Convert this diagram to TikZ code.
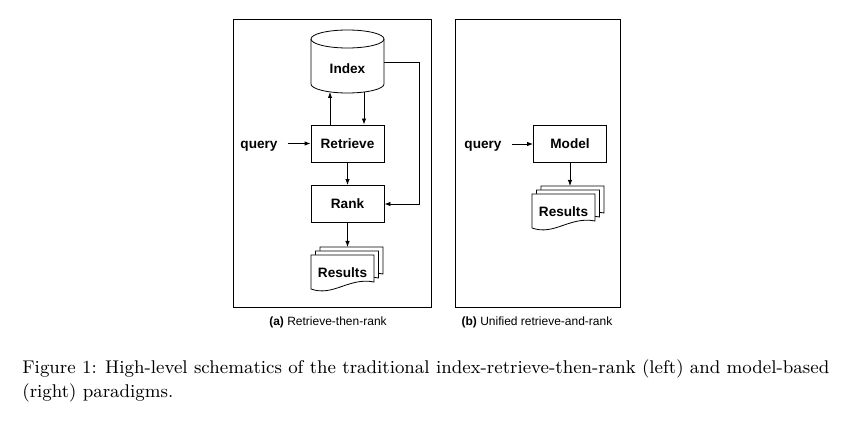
\documentclass[tikz,border=0pt]{standalone}
\usepackage{fontspec}
\newfontfamily\arialfont{Liberation Sans}
\usetikzlibrary{arrows.meta,positioning,calc}

\begin{document}
\begin{tikzpicture}[x=0.5pt,y=-0.5pt,
  font=\arialfont\bfseries\fontsize{6.8}{8}\selectfont,
  stage/.style={draw,minimum width=36.5pt,minimum height=18.5pt,inner sep=0pt},
  flow/.style={-{Latex[length=3pt,width=2.2pt]},line width=0.4pt},
  panel/.style={draw,line width=0.5pt},
  sub/.style={font=\arialfont\fontsize{6}{7}\selectfont},
  docs/.pic={
    \foreach \k in {2,1,0} {
      \draw[fill=white,line width=0.4pt,shift={(4.5*\k,-4*\k)}]
        (0,0) -- (63,0) -- (63,27) .. controls (38,22) and (22,42) .. (0,34) -- cycle;
    }
  }]
\useasboundingbox (0,0) rectangle (867,422);

% panels
\draw[panel] (233,20) rectangle (431,307);
\draw[panel] (455,20) rectangle (620,307);

% (a) retrieve then rank
\draw[line width=0.4pt,fill=white] (311,39) -- (311,84)
  arc[start angle=180,end angle=0,x radius=36.5,y radius=9] -- (384,39);
\draw[line width=0.4pt] (347.5,39) ellipse[x radius=36.5,y radius=9];
\node (index) at (347.5,69) {Index};
\coordinate (idxl) at (330,92);
\coordinate (idxr) at (364,92);
\coordinate (idxe) at (384,62);

\node[stage] (retrieve) at (347.5,143.5) {Retrieve};
\node[stage] (rank) at (347.5,204) {Rank};
\node (querya) at (259,146.5) {query};

\pic at (311,255) {docs};
\node (resultsa) at (342.5,273) {Results};
\coordinate (resatop) at (347.5,247);

\draw[flow] (querya.east |- retrieve) ++(3,0) -- (retrieve.west);
\draw[flow] (retrieve.north -| idxl) -- (idxl);
\draw[flow] (idxr) -- (retrieve.north -| idxr);
\draw[flow] (retrieve) -- (rank);
\draw[flow] (idxe) -- ++(35,0) |- (rank.east);
\draw[flow] (rank) -- (resatop);

\node[sub] (capa) at (328,322) {\textbf{(a)} Retrieve-then-rank};

% (b) unified retrieve and rank
\node[stage] (model) at (570,144) {Model};
\node (queryb) at (483,146.5) {query};
\pic at (532,194) {docs};
\node (resultsb) at (563.5,212) {Results};
\coordinate (resbtop) at (570,186);

\draw[flow] (queryb.east |- model) ++(3,0) -- (model.west);
\draw[flow] (model) -- (resbtop);

\node[sub] (capb) at (537,322) {\textbf{(b)} Unified retrieve-and-rank};

% figure caption
\node[anchor=north west,align=left,inner sep=0pt,font=\rmfamily\fontsize{9.2}{12}\selectfont] (figcap) at (22,359)
  {Figure 1: High-level schematics of the traditional index-retrieve-then-rank (left) and model-based\\
   (right) paradigms.};
\end{tikzpicture}
\end{document}
